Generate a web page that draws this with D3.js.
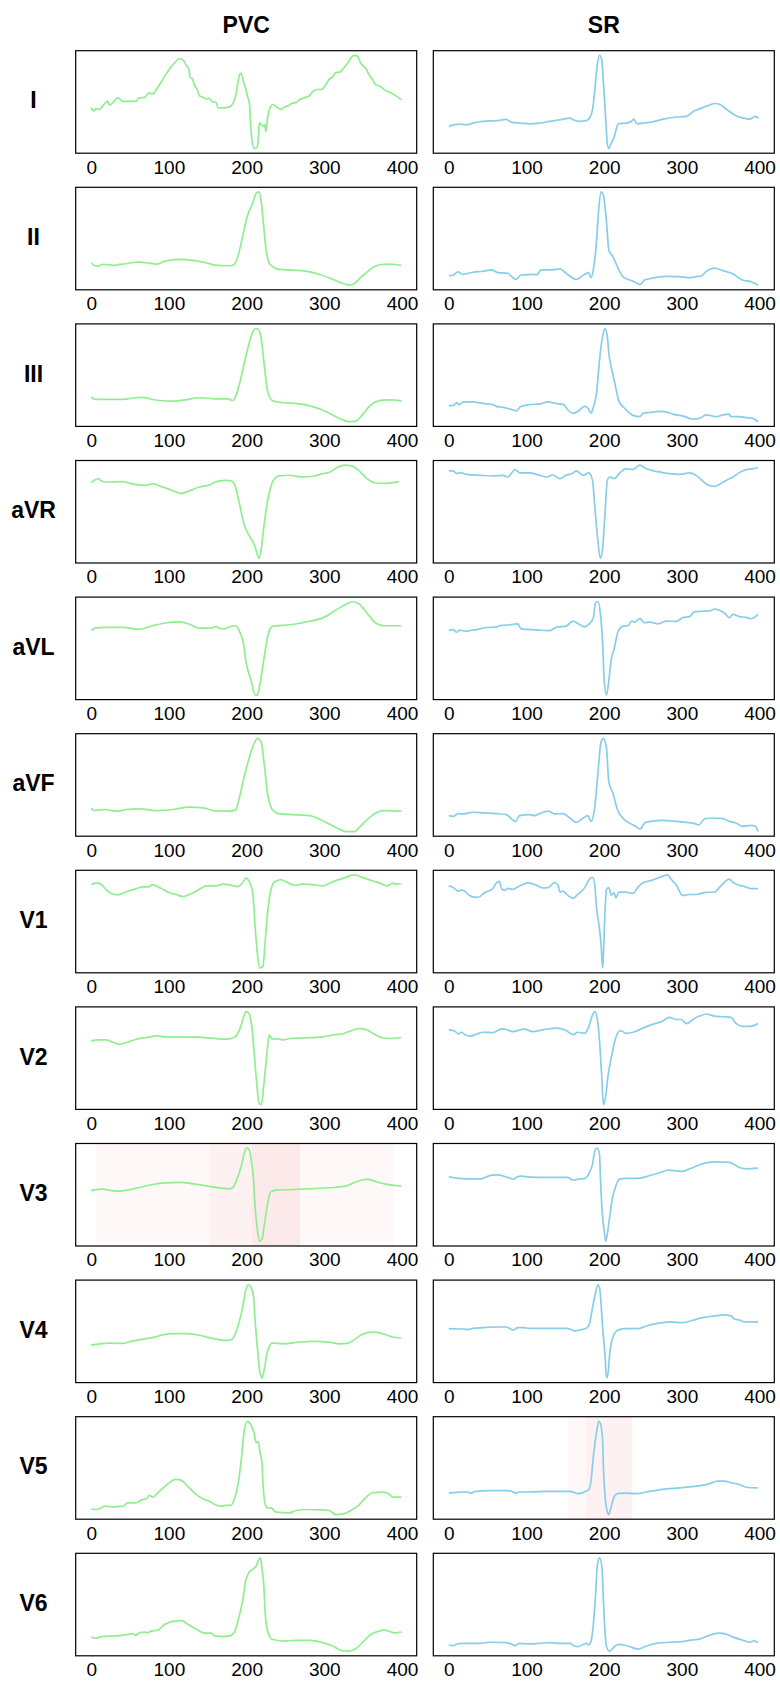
<!DOCTYPE html>
<html>
<head>
<meta charset="utf-8">
<script src="https://cdn.jsdelivr.net/npm/d3@7"></script>
<style>
  body { margin: 0; background: #fff; }
  svg { display: block; font-family: "Liberation Sans", Arial, sans-serif; }
</style>
</head>
<body>
<div id="chart"></div>
<script>
// leads and groups
const leads = ["I", "II", "III", "aVR", "aVL", "aVF", "V1", "V2", "V3", "V4", "V5", "V6"];
const groups = ["PVC", "SR"];
const xTicks = [0, 100, 200, 300, 400];

// PVC traces: [sample, amplitude]
const pvcI = [[0,136],[3,126],[6,133],[11,131],[15,141],[21,154],[24,143],[29,153],[34,165],[41,154],[49,154],[58,155],[61,164],[69,166],[74,179],[79,176],[86,196],[94,226],[105,261],[114,279],[118,276],[122,261],[126,246],[127,226],[130,221],[133,201],[137,186],[139,171],[144,166],[148,161],[152,163],[156,153],[161,151],[163,136],[169,135],[178,138],[182,146],[186,171],[189,211],[191,233],[193,236],[196,211],[199,191],[201,171],[204,141],[205,91],[207,41],[210,16],[213,18],[215,41],[216,81],[217,91],[221,81],[223,86],[225,66],[227,106],[231,139],[234,145],[238,139],[244,131],[249,138],[255,143],[259,149],[264,151],[268,159],[276,166],[281,171],[285,183],[291,189],[296,189],[302,203],[306,218],[311,226],[315,239],[319,239],[324,249],[330,266],[336,286],[339,289],[343,286],[347,266],[354,249],[358,231],[362,219],[366,203],[371,199],[375,193],[379,186],[386,179],[392,171],[399,159]];
const pvcII = [[0,81],[4,73],[9,71],[15,76],[24,75],[30,73],[36,76],[45,78],[51,81],[62,83],[71,81],[84,77],[94,85],[114,91],[131,88],[148,81],[161,73],[178,72],[184,76],[189,101],[195,161],[201,221],[208,261],[213,291],[216,293],[219,261],[222,191],[225,121],[229,81],[234,69],[242,61],[259,59],[276,56],[294,46],[311,31],[324,19],[332,14],[339,19],[345,33],[354,51],[362,66],[371,75],[384,77],[394,75],[399,73]];
const pvcIII = [[0,94],[4,87],[15,86],[36,86],[58,91],[66,92],[79,86],[101,81],[118,84],[139,91],[161,88],[176,88],[182,83],[187,101],[193,151],[199,211],[206,271],[211,293],[215,291],[219,261],[223,181],[227,111],[233,83],[242,78],[268,73],[285,65],[302,51],[319,31],[332,21],[341,23],[349,41],[358,66],[366,79],[379,85],[392,84],[399,81]];
const pvcAVR = [[0,246],[4,253],[9,258],[13,251],[19,248],[39,249],[56,241],[71,238],[79,243],[88,236],[101,226],[116,214],[126,221],[139,233],[152,239],[161,249],[174,253],[181,251],[186,231],[191,181],[197,121],[204,86],[210,61],[214,31],[216,21],[219,51],[222,111],[227,191],[234,251],[242,266],[255,268],[272,263],[285,265],[298,273],[306,276],[315,289],[326,298],[336,295],[345,281],[356,256],[366,245],[379,244],[396,249]];
const pvcAVL = [[0,211],[6,219],[19,220],[41,220],[62,215],[79,225],[96,233],[114,236],[126,230],[139,218],[156,219],[161,223],[165,217],[171,216],[180,223],[186,225],[191,208],[196,173],[199,123],[206,63],[211,23],[214,23],[217,53],[222,123],[227,193],[233,223],[246,226],[263,230],[281,238],[298,248],[315,271],[328,288],[336,295],[344,290],[351,273],[358,253],[366,233],[377,225],[399,225]];
const pvcAVF = [[0,90],[4,83],[11,85],[19,86],[26,83],[34,81],[45,86],[62,88],[84,83],[105,86],[126,93],[144,91],[161,81],[178,81],[186,85],[191,123],[197,183],[204,243],[210,283],[214,296],[219,283],[223,213],[227,133],[234,83],[242,73],[259,71],[281,68],[298,53],[315,33],[328,21],[339,21],[345,33],[354,53],[364,73],[377,83],[399,81]];
const pvcV1 = [[0,266],[6,272],[13,267],[19,253],[26,241],[34,237],[45,246],[58,255],[66,260],[73,260],[79,267],[88,258],[101,243],[109,238],[118,232],[126,238],[137,250],[148,263],[161,263],[169,268],[178,266],[189,261],[195,273],[199,286],[204,273],[208,243],[211,143],[214,63],[217,23],[221,28],[224,103],[227,183],[231,248],[236,275],[244,281],[253,273],[261,265],[272,268],[285,267],[298,263],[311,275],[324,285],[339,295],[349,288],[362,278],[375,268],[381,263],[388,271],[392,268],[399,270]];
const pvcV2 = [[0,214],[9,217],[19,217],[26,212],[36,204],[45,209],[58,219],[71,224],[86,229],[94,226],[114,226],[139,225],[156,222],[174,219],[184,224],[191,247],[196,282],[199,300],[203,294],[207,252],[210,172],[213,92],[216,32],[219,27],[222,82],[226,172],[229,232],[233,220],[240,220],[247,217],[255,221],[276,223],[298,226],[313,232],[324,235],[335,244],[345,250],[354,247],[362,237],[373,224],[384,221],[399,224]];
const pvcV3 = [[0,172],[4,175],[15,177],[21,175],[32,171],[45,174],[62,182],[79,191],[96,196],[114,197],[131,193],[148,187],[165,181],[178,178],[183,184],[187,204],[193,244],[197,284],[200,299],[203,296],[206,264],[209,204],[211,124],[214,54],[217,22],[220,29],[223,74],[227,134],[231,169],[238,174],[259,176],[285,179],[311,182],[328,186],[336,194],[345,202],[356,206],[366,200],[379,192],[399,186]];
const pvcV4 = [[0,122],[11,126],[24,128],[41,127],[49,132],[62,138],[79,144],[92,152],[105,156],[122,156],[139,151],[156,142],[174,136],[181,139],[186,159],[191,194],[195,234],[199,284],[202,299],[206,289],[209,264],[211,194],[214,114],[217,44],[220,26],[223,54],[227,104],[233,128],[246,126],[268,131],[285,133],[306,131],[319,126],[330,127],[339,139],[349,154],[362,160],[375,156],[388,146],[399,143]];
const pvcV5 = [[0,41],[6,39],[13,44],[17,49],[28,47],[41,49],[47,59],[58,59],[64,67],[71,71],[75,81],[79,76],[88,94],[99,116],[109,129],[116,126],[124,109],[135,84],[146,68],[152,64],[159,54],[167,49],[176,52],[180,51],[184,69],[189,114],[193,184],[197,274],[201,302],[206,289],[210,264],[212,239],[215,241],[217,214],[220,174],[221,124],[224,54],[227,44],[231,44],[238,31],[255,29],[264,36],[276,39],[293,38],[306,36],[315,24],[324,26],[334,36],[343,49],[354,76],[362,89],[375,91],[384,84],[388,76],[399,76]];
const pvcV6 = [[0,65],[6,61],[13,66],[19,67],[32,68],[41,70],[49,73],[54,75],[57,69],[62,77],[69,79],[73,77],[77,82],[86,85],[94,101],[105,111],[116,113],[124,103],[135,88],[146,76],[155,76],[159,68],[169,66],[178,68],[184,78],[189,113],[195,173],[199,233],[204,258],[210,268],[213,277],[215,291],[218,298],[220,263],[222,223],[224,133],[227,83],[233,58],[246,53],[268,55],[281,55],[298,48],[311,38],[322,25],[332,23],[341,31],[349,48],[360,73],[369,81],[377,85],[384,81],[390,77],[399,79]];

// SR traces
const srI = [[0,81],[6,86],[14,88],[23,86],[31,91],[40,95],[48,97],[61,98],[74,102],[81,93],[92,91],[105,89],[117,91],[130,96],[143,101],[156,106],[160,101],[169,96],[178,99],[181,106],[185,131],[188,191],[191,261],[194,291],[197,276],[199,211],[202,101],[204,31],[206,16],[209,31],[213,51],[218,89],[228,91],[235,96],[238,103],[242,89],[250,91],[263,95],[276,103],[293,109],[306,111],[315,126],[323,133],[334,143],[343,149],[349,146],[358,131],[364,121],[371,111],[379,106],[388,103],[394,111],[399,106]];
const srII = [[0,44],[6,46],[12,55],[18,48],[31,54],[44,57],[55,61],[63,53],[76,51],[81,41],[86,33],[93,46],[109,48],[113,46],[119,61],[132,61],[143,64],[151,51],[164,33],[175,48],[180,53],[183,38],[186,61],[190,141],[193,241],[196,291],[199,281],[203,201],[206,119],[211,101],[217,71],[224,41],[233,31],[239,26],[246,18],[252,31],[258,35],[267,39],[280,42],[297,41],[310,38],[318,41],[325,43],[331,56],[342,66],[353,59],[366,49],[378,31],[389,26],[398,16]];
const srIII = [[0,68],[6,69],[10,76],[14,71],[18,78],[31,79],[40,76],[48,73],[57,71],[61,66],[70,63],[79,58],[87,53],[93,66],[104,71],[117,73],[128,79],[139,74],[148,71],[153,56],[160,46],[166,51],[175,66],[179,61],[183,46],[186,63],[190,101],[194,201],[198,271],[201,293],[204,271],[206,221],[209,181],[213,141],[219,81],[226,61],[233,46],[239,38],[246,36],[250,46],[258,48],[271,51],[284,47],[292,41],[301,38],[314,29],[323,31],[331,41],[344,36],[353,41],[361,43],[363,36],[374,36],[383,33],[391,31],[398,21]];
const srAVR = [[0,279],[6,279],[10,271],[14,274],[23,269],[40,266],[57,264],[70,266],[76,261],[82,276],[85,283],[92,273],[104,273],[117,266],[126,261],[134,267],[143,256],[151,266],[160,273],[164,279],[173,266],[180,274],[185,251],[188,171],[192,71],[195,21],[198,51],[201,151],[204,251],[207,261],[213,256],[220,273],[228,285],[237,283],[246,296],[254,286],[263,279],[271,276],[284,271],[297,269],[310,273],[318,266],[325,253],[333,238],[342,233],[348,239],[357,251],[366,261],[374,274],[383,283],[391,285],[398,289]];
const srAVL = [[0,210],[6,213],[10,205],[14,211],[23,208],[29,211],[36,213],[49,219],[61,220],[66,225],[74,226],[82,228],[89,230],[93,215],[104,213],[117,211],[130,210],[139,220],[151,223],[160,238],[166,231],[175,221],[180,228],[186,248],[189,293],[192,295],[195,263],[198,173],[200,63],[203,20],[206,63],[209,123],[213,158],[218,208],[224,223],[231,225],[235,238],[239,235],[246,245],[252,233],[259,235],[269,230],[280,238],[293,237],[301,248],[310,251],[316,265],[325,267],[336,268],[342,273],[348,270],[355,261],[361,248],[366,258],[374,251],[383,249],[389,245],[398,258]];
const srAVF = [[0,65],[6,63],[12,71],[18,70],[31,75],[44,73],[61,71],[74,68],[82,53],[86,48],[91,65],[104,68],[110,65],[117,71],[128,78],[136,70],[147,71],[156,58],[164,45],[173,58],[179,65],[183,48],[188,93],[192,193],[196,283],[199,293],[203,263],[206,163],[211,133],[217,83],[226,53],[235,40],[241,33],[246,25],[253,45],[260,48],[275,51],[293,48],[305,45],[314,43],[322,38],[329,55],[340,58],[353,56],[361,48],[370,43],[378,33],[389,36],[395,33],[398,18]];
const srV1 = [[0,263],[6,258],[12,248],[18,251],[25,238],[31,231],[38,230],[46,243],[57,256],[61,271],[65,276],[68,255],[72,250],[76,256],[82,253],[91,263],[102,272],[113,265],[121,257],[128,258],[136,273],[141,263],[143,245],[147,248],[151,240],[160,227],[166,238],[175,258],[181,283],[185,288],[188,263],[190,203],[193,153],[196,93],[198,23],[199,63],[201,183],[203,253],[206,258],[209,236],[213,243],[215,228],[219,245],[228,245],[237,241],[243,258],[249,271],[262,280],[275,291],[282,295],[286,283],[293,265],[301,235],[310,238],[318,238],[331,244],[342,245],[348,258],[357,278],[361,283],[366,273],[374,265],[381,261],[389,255],[398,255]];
const srV2 = [[0,244],[8,240],[12,232],[16,237],[21,230],[28,226],[36,232],[44,237],[57,236],[68,247],[74,245],[82,239],[97,246],[108,239],[121,244],[138,249],[151,242],[160,230],[166,237],[175,234],[180,252],[185,287],[188,297],[191,277],[194,212],[197,102],[199,27],[202,52],[205,112],[209,162],[215,222],[221,242],[228,234],[237,237],[250,249],[262,260],[275,269],[284,280],[293,274],[299,274],[306,262],[314,274],[323,284],[331,290],[342,284],[353,282],[363,280],[370,262],[378,254],[387,254],[398,262]];
const srV3 = [[0,216],[10,212],[23,210],[42,210],[49,216],[55,221],[64,222],[70,218],[79,212],[84,209],[88,216],[93,218],[104,215],[126,214],[153,214],[158,208],[162,206],[166,209],[175,211],[180,224],[185,254],[188,294],[191,302],[194,284],[195,224],[197,124],[200,54],[202,22],[204,44],[207,94],[210,144],[215,189],[220,209],[228,211],[246,212],[258,219],[271,228],[282,236],[293,234],[301,232],[310,240],[323,252],[331,258],[344,261],[361,259],[368,252],[374,244],[383,240],[398,242]];
const srV4 = [[0,171],[14,170],[27,169],[31,172],[44,174],[61,176],[74,176],[79,171],[83,167],[89,174],[96,174],[104,172],[126,172],[151,172],[158,168],[162,164],[168,167],[177,172],[181,184],[185,234],[189,279],[192,302],[194,294],[196,244],[198,174],[201,94],[203,24],[205,39],[207,94],[211,144],[218,167],[228,171],[243,171],[254,179],[267,186],[284,191],[301,189],[314,196],[327,204],[342,209],[353,212],[363,209],[368,199],[374,197],[381,191],[398,191]];
const srV5 = [[0,89],[10,91],[23,92],[29,89],[34,94],[53,96],[74,96],[81,94],[86,89],[91,92],[104,92],[126,94],[156,94],[160,92],[166,87],[173,91],[180,99],[183,124],[186,194],[190,264],[193,299],[195,294],[198,244],[199,164],[201,84],[204,34],[206,26],[209,49],[213,79],[218,88],[228,89],[241,87],[254,92],[267,97],[280,101],[297,104],[318,109],[327,112],[335,116],[346,124],[355,124],[363,119],[374,114],[383,106],[398,104]];
const srV6 = [[0,43],[6,41],[12,47],[18,48],[40,48],[53,51],[74,50],[81,45],[86,41],[91,48],[104,46],[117,48],[130,50],[139,48],[156,48],[161,41],[166,38],[173,45],[177,48],[180,43],[183,53],[186,103],[189,193],[191,273],[194,298],[197,273],[199,173],[201,83],[203,38],[207,25],[211,33],[218,45],[226,43],[233,38],[244,31],[252,38],[267,48],[285,51],[301,53],[314,58],[323,60],[331,68],[340,75],[348,78],[357,75],[366,66],[377,58],[387,51],[393,55],[398,50]];

const pvcData = [pvcI, pvcII, pvcIII, pvcAVR, pvcAVL, pvcAVF, pvcV1, pvcV2, pvcV3, pvcV4, pvcV5, pvcV6];
const srData = [srI, srII, srIII, srAVR, srAVL, srAVF, srV1, srV2, srV3, srV4, srV5, srV6];

// highlighted sample windows [group, lead, start, end]
const spans = [
  ["PVC", "V3", 6, 389],
  ["PVC", "V3", 152, 269],
  ["PVC", "V3", 207, 269],
  ["SR", "V5", 153, 236],
  ["SR", "V5", 177, 236]
];

const colors = { PVC: "#90ee90", SR: "#87ceeb" };

const width = 780, height = 1682;
const colLeft = [75.7, 433.3];
const panelW = 341, panelH = 102.5;
const top0 = 50.7, rowStep = 136.6;

const svg = d3.select("#chart").append("svg")
  .attr("width", width)
  .attr("height", height);

// column titles
groups.forEach((g, ci) => {
  svg.append("text")
    .attr("x", colLeft[ci] + panelW / 2)
    .attr("y", 32.5)
    .attr("text-anchor", "middle")
    .attr("font-size", 23)
    .attr("font-weight", "bold")
    .text(g);
});

const x = d3.scaleLinear().domain([-19.95, 418.95]);

leads.forEach((lead, ri) => {
  const top = top0 + ri * rowStep;

  svg.append("text")
    .attr("x", 33.5)
    .attr("y", top + 57.6)
    .attr("text-anchor", "middle")
    .attr("font-size", 23)
    .attr("font-weight", "bold")
    .text(lead);

  groups.forEach((g, ci) => {
    const series = (g === "PVC" ? pvcData : srData)[ri];
    const left = colLeft[ci];
    const xs = x.copy().range([left, left + panelW]);
    const ext = d3.extent(series, d => d[1]);
    const pad = (ext[1] - ext[0]) * 0.05;
    const ys = d3.scaleLinear()
      .domain([ext[0] - pad, ext[1] + pad])
      .range([top + panelH, top]);

    const panel = svg.append("g");

    spans.filter(s => s[0] === g && s[1] === lead).forEach(s => {
      panel.append("rect")
        .attr("x", xs(s[2]))
        .attr("y", top)
        .attr("width", xs(s[3]) - xs(s[2]))
        .attr("height", panelH)
        .attr("fill", "#f08080")
        .attr("fill-opacity", 0.055);
    });

    panel.append("path")
      .datum(series)
      .attr("fill", "none")
      .attr("stroke", colors[g])
      .attr("stroke-width", 1.7)
      .attr("stroke-linejoin", "round")
      .attr("d", d3.line()
        .x(d => xs(d[0]))
        .y(d => ys(d[1]))
        .curve(d3.curveMonotoneX));

    panel.append("rect")
      .attr("x", left)
      .attr("y", top)
      .attr("width", panelW)
      .attr("height", panelH)
      .attr("fill", "none")
      .attr("stroke", "#000")
      .attr("stroke-width", 1.2);

    const ax = panel.append("g")
      .attr("transform", `translate(0,${top + panelH})`)
      .call(d3.axisBottom(xs).tickValues(xTicks).tickSize(0).tickPadding(7));
    ax.select(".domain").remove();
    ax.selectAll("text")
      .attr("font-size", 19)
      .attr("font-family", "Liberation Sans, Arial, sans-serif")
      .attr("fill", "#000");
  });
});
</script>
</body>
</html>
